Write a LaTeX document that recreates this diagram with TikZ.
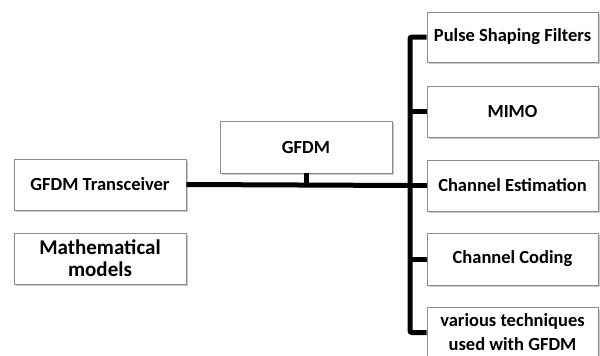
\documentclass[tikz,border=0pt]{standalone}
\usepackage{fontspec}
\setmainfont{Carlito}
\usetikzlibrary{shadows,calc}
\begin{document}
\begin{tikzpicture}[x=1pt,y=-1pt,
  box/.style={draw=black!45, line width=0.8pt, fill=white, inner sep=0pt,
    align=center, font=\fontsize{18.5}{22}\selectfont\bfseries,
    drop shadow={shadow xshift=1.8pt, shadow yshift=-2.2pt, fill=black!35, opacity=0.6}},
  bus/.style={line width=5pt, black, rounded corners=2pt}]
\useasboundingbox (0,0) rectangle (600,356);
\node[box, minimum width=172pt, minimum height=51pt] (tr) at (100,184.5) {GFDM Transceiver};
\node[box, minimum width=172pt, minimum height=51pt, font=\fontsize{21}{22}\selectfont\bfseries] (mm) at (100,258.5) {Mathematical\\models};
\node[box, minimum width=172pt, minimum height=52pt] (g) at (306,147) {GFDM};
\node[box, minimum width=171pt, minimum height=50pt] (p1) at (512.5,37) {Pulse Shaping Filters};
\node[box, minimum width=171pt, minimum height=51pt] (p2) at (512.5,111.5) {MIMO};
\node[box, minimum width=171pt, minimum height=51pt] (p3) at (512.5,185.5) {Channel Estimation};
\node[box, minimum width=171pt, minimum height=52pt] (p4) at (512.5,259) {Channel Coding};
\node[box, minimum width=171pt, minimum height=50pt, font=\fontsize{18.5}{24}\selectfont\bfseries] (p5) at (512.5,332.5) {various techniques\\used with GFDM};
\coordinate (bx) at (410,0);
\coordinate (j) at (p3.west -| bx);
\draw[bus] (p1.west) -| (bx |- p5.west) -- (p5.west);
\draw[bus] (p2.west) -- (p2.west -| bx);
\draw[bus] (p3.west) -- (p3.west -| bx);
\draw[bus] (p4.west) -- (p4.west -| bx);
\draw[bus] (tr.east) -- (j);
\draw[line width=5pt] (g.south) -- (g.south |- j);
\end{tikzpicture}
\end{document}
